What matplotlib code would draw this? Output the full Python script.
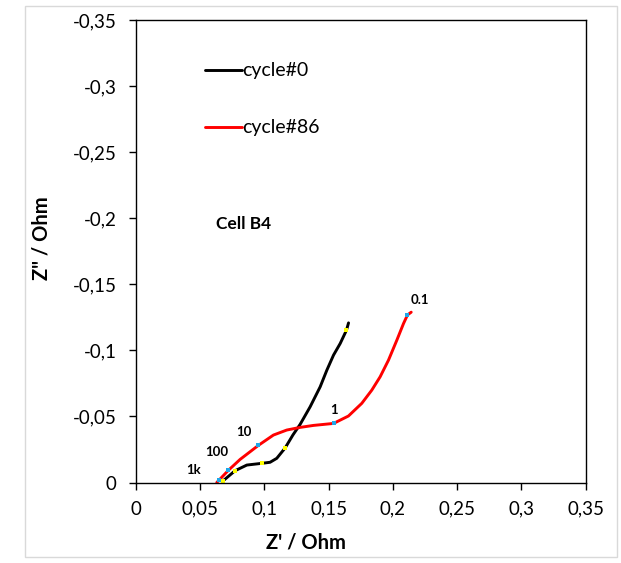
#!/usr/bin/env python3
"""Nyquist plot, cell B4, cycle 0 vs cycle 86."""

import matplotlib

matplotlib.use("Agg")
import matplotlib.pyplot as plt
from matplotlib.patches import Rectangle
from matplotlib.ticker import FuncFormatter, MultipleLocator

plt.rcParams["font.family"] = ["Lato", "DejaVu Sans"]

# cycle#0 (black)
C0_RE = [0.0675, 0.0771, 0.0863, 0.0979, 0.1044, 0.1096, 0.1161, 0.1222, 0.1278,
         0.1356, 0.1434, 0.1486, 0.1538, 0.1590, 0.1639, 0.1655]
C0_IM = [-0.001, -0.0089, -0.0132, -0.0145, -0.0153, -0.0183, -0.0261, -0.0360, -0.0440,
         -0.0573, -0.0724, -0.0850, -0.0964, -0.1052, -0.1153, -0.1208]
C0_MARK_RE = [0.0681, 0.0771, 0.0979, 0.1161, 0.1639]
C0_MARK_IM = [-0.0015, -0.0089, -0.0145, -0.0261, -0.1153]

# cycle#86 (red)
C86_RE = [0.0629, 0.0719, 0.0811, 0.0953, 0.1070, 0.1174, 0.1278, 0.1382, 0.1538,
          0.1654, 0.1758, 0.1836, 0.1901, 0.1966, 0.2031, 0.2083, 0.2114, 0.2143]
C86_IM = [0.0, -0.0092, -0.0175, -0.0281, -0.0359, -0.0397, -0.0417, -0.0432, -0.0447,
          -0.0503, -0.0599, -0.0699, -0.0800, -0.0926, -0.1077, -0.1203, -0.1268, -0.1289]
C86_MARK_RE = [0.0649, 0.0719, 0.0953, 0.1538, 0.2114]
C86_MARK_IM = [-0.0019, -0.0092, -0.0281, -0.0447, -0.1268]

FREQ_LABELS = ["1k", "100", "10", "1", "0.1"]
FREQ_RE = [0.045, 0.063, 0.084, 0.154, 0.221]
FREQ_IM = [-0.0094, -0.023, -0.038, -0.055, -0.138]


def comma(v, _pos):
    if abs(v) < 1e-12:
        return "0"
    return f"{v:g}".replace(".", ",")


fig = plt.figure(figsize=(6.21, 5.63), dpi=100)
fig.patches.append(Rectangle((25 / 621, 6 / 563), 592 / 621, 551 / 563,
                             transform=fig.transFigure, fill=False,
                             edgecolor="#d9d9d9", linewidth=1.0))
ax = fig.add_axes([136 / 621, 80.5 / 563, 449.5 / 621, 462.5 / 563])

ax.plot(C0_RE, C0_IM, color="black", lw=2.1, label="cycle#0", solid_capstyle="round")
ax.plot(C86_RE, C86_IM, color="#ff0000", lw=2.1, label="cycle#86", solid_capstyle="round")
ax.plot(C0_MARK_RE, C0_MARK_IM, ls="none", marker="s", ms=2.8, color="#ffff00", mew=0)
ax.plot(C86_MARK_RE, C86_MARK_IM, ls="none", marker="s", ms=2.8, color="#1ea7e8", mew=0)

for lab, x, y in zip(FREQ_LABELS, FREQ_RE, FREQ_IM):
    ax.text(x, y, lab, fontsize=9.5, weight="bold", ha="center", va="center")
ax.text(0.0835, -0.1954, "Cell B4", fontsize=12.5, weight="bold", ha="center", va="center")

ax.set_xlim(0, 0.35)
ax.set_ylim(0, -0.35)
ax.xaxis.set_major_locator(MultipleLocator(0.05))
ax.yaxis.set_major_locator(MultipleLocator(0.05))
ax.xaxis.set_major_formatter(FuncFormatter(comma))
ax.yaxis.set_major_formatter(FuncFormatter(comma))
ax.tick_params(direction="out", length=5, width=1, labelsize=13.5)
ax.tick_params(axis="y", pad=9)
ax.tick_params(axis="x", pad=8)
for s in ax.spines.values():
    s.set_linewidth(1.0)

ax.set_xlabel("Z' / Ohm", fontsize=14.5, weight="bold")
ax.set_ylabel('Z" / Ohm', fontsize=14.5, weight="bold")
ax.xaxis.set_label_coords(0.379, -0.109)
ax.yaxis.set_label_coords(-0.187, 0.5276)

ax.legend(loc="upper left", bbox_to_anchor=(0.114, 0.946), frameon=False,
          fontsize=14, handlelength=1.9, handletextpad=0.0, labelspacing=2.05)

fig.savefig("out.png", dpi=100)
